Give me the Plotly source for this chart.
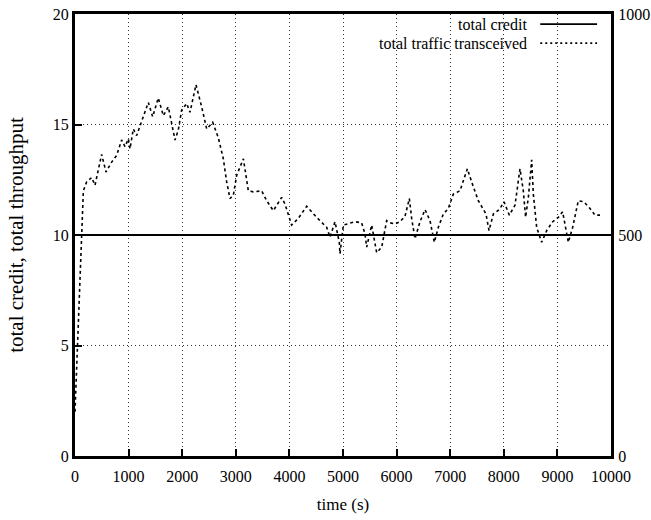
import plotly.graph_objects as go

# time (s) and total traffic transceived
time_s = [0, 156, 217, 311, 373, 497, 578, 684, 777, 870, 933, 995, 1026, 1088, 1150,
          1213, 1287, 1368, 1449, 1554, 1648, 1741, 1866, 1927, 1990, 2083, 2145, 2257,
          2363, 2457, 2569, 2674, 2767, 2830, 2892, 2954, 3016, 3141, 3234, 3327, 3482,
          3576, 3700, 3855, 3918, 3980, 4042, 4166, 4322, 4509, 4695, 4757, 4851, 4931,
          4944, 5006, 5099, 5224, 5348, 5410, 5442, 5535, 5628, 5722, 5815, 5877, 5970,
          6063, 6157, 6238, 6281, 6343, 6437, 6530, 6623, 6704, 6779, 6872, 6965, 7058,
          7183, 7320, 7400, 7525, 7668, 7724, 7805, 7917, 8004, 8103, 8209, 8302, 8364,
          8407, 8458, 8520, 8551, 8613, 8706, 8800, 8912, 9017, 9098, 9160, 9204, 9285,
          9390, 9496, 9608, 9701, 9795]
traffic = [2.0, 12.0, 12.4, 12.6, 12.25, 13.65, 12.85, 13.3, 13.6, 14.3, 14.0, 14.35, 13.9,
           14.8, 14.5, 14.95, 15.5, 16.0, 15.35, 16.2, 15.4, 15.8, 14.3, 14.75, 15.65,
           15.95, 15.55, 16.8, 15.8, 14.8, 15.1, 14.4, 13.45, 12.4, 11.65, 11.8, 12.7,
           13.45, 12.0, 11.95, 12.0, 11.55, 11.1, 11.7, 11.4, 10.9, 10.45, 10.75, 11.3,
           10.8, 10.35, 9.9, 10.6, 9.67, 9.15, 10.45, 10.5, 10.6, 10.55, 10.05, 9.45,
           10.45, 9.2, 9.45, 10.65, 10.55, 10.5, 10.6, 10.85, 11.65, 10.75, 9.83, 10.6,
           11.15, 10.65, 9.67, 10.35, 10.95, 11.2, 11.85, 12.0, 13.0, 12.4, 11.55, 10.95,
           10.2, 10.95, 11.15, 11.5, 10.9, 11.35, 13.0, 12.0, 10.8, 11.7, 13.4, 11.85,
           10.35, 9.67, 10.2, 10.6, 10.8, 11.05, 10.2, 9.67, 10.35, 11.55, 11.5, 11.2,
           10.9, 10.9]

# total credit
credit_time = [0, 10000]
credit = [10, 10]

x_ticks = [0, 1000, 2000, 3000, 4000, 5000, 6000, 7000, 8000, 9000, 10000]
x_labels = [str(v) for v in x_ticks]
y_ticks = [0, 5, 10, 15, 20]
y2_ticks = [0, 500, 1000]

FONT = "Liberation Serif"
GRID_DASH = "1px,3px"

fig = go.Figure()
fig.add_trace(go.Scatter(x=credit_time, y=credit, mode="lines",
                         line=dict(color="black", width=2), name="total credit",
                         showlegend=False))
fig.add_trace(go.Scatter(x=time_s, y=traffic, mode="lines",
                         line=dict(color="black", width=1.6, dash="3px,3px"),
                         name="total traffic transceived", showlegend=False))
# invisible trace to activate the right-hand axis
fig.add_trace(go.Scatter(x=[0], y=[0], yaxis="y2", mode="markers",
                         marker=dict(opacity=0), showlegend=False, hoverinfo="skip"))

# key in the upper right corner
legend_rows = [("total credit", "solid", 0.977), ("total traffic transceived", "2px,3px", 0.934)]
for label, dash, yy in legend_rows:
    fig.add_annotation(x=0.847, y=yy, xref="paper", yref="paper", text=label,
                       showarrow=False, xanchor="right", yanchor="middle",
                       font=dict(family=FONT, size=16, color="black"))
    fig.add_shape(type="line", xref="paper", yref="paper", x0=0.868, x1=0.974,
                  y0=yy, y1=yy, line=dict(color="black", width=1.6, dash=dash))

fig.update_layout(
    width=651, height=520,
    margin=dict(l=75, r=40, t=14, b=64),
    paper_bgcolor="white", plot_bgcolor="white",
    font=dict(family=FONT, size=16, color="black"),
    xaxis=dict(range=[0, 10000], tickvals=x_ticks, ticktext=x_labels, ticks="inside",
               ticklen=7, tickwidth=2, tickcolor="black", showline=True, linewidth=3,
               linecolor="black", mirror=True, showgrid=True, gridcolor="#333",
               griddash=GRID_DASH, gridwidth=1, zeroline=False, ticklabelstandoff=4,
               automargin=False, tickfont=dict(family=FONT, size=16),
               title=dict(text="time (s)", font=dict(family=FONT, size=17), standoff=14)),
    yaxis=dict(range=[0, 20], tickvals=y_ticks, ticks="inside", ticklen=7,
               tickwidth=2, tickcolor="black", showline=True, linewidth=3,
               linecolor="black", showgrid=True, gridcolor="#333", griddash=GRID_DASH,
               gridwidth=1, zeroline=False, automargin=False,
               tickfont=dict(family=FONT, size=16),
               title=dict(text="total credit, total throughput",
                          font=dict(family=FONT, size=21), standoff=24)),
    yaxis2=dict(range=[0, 1000], tickvals=y2_ticks, overlaying="y", side="right",
                ticks="inside", ticklen=7, tickwidth=2, tickcolor="black",
                showline=True, linewidth=3, linecolor="black", showgrid=False,
                zeroline=False, ticklabelstandoff=1, automargin=False,
                tickfont=dict(family=FONT, size=16)),
)

fig.write_html("out.html")
